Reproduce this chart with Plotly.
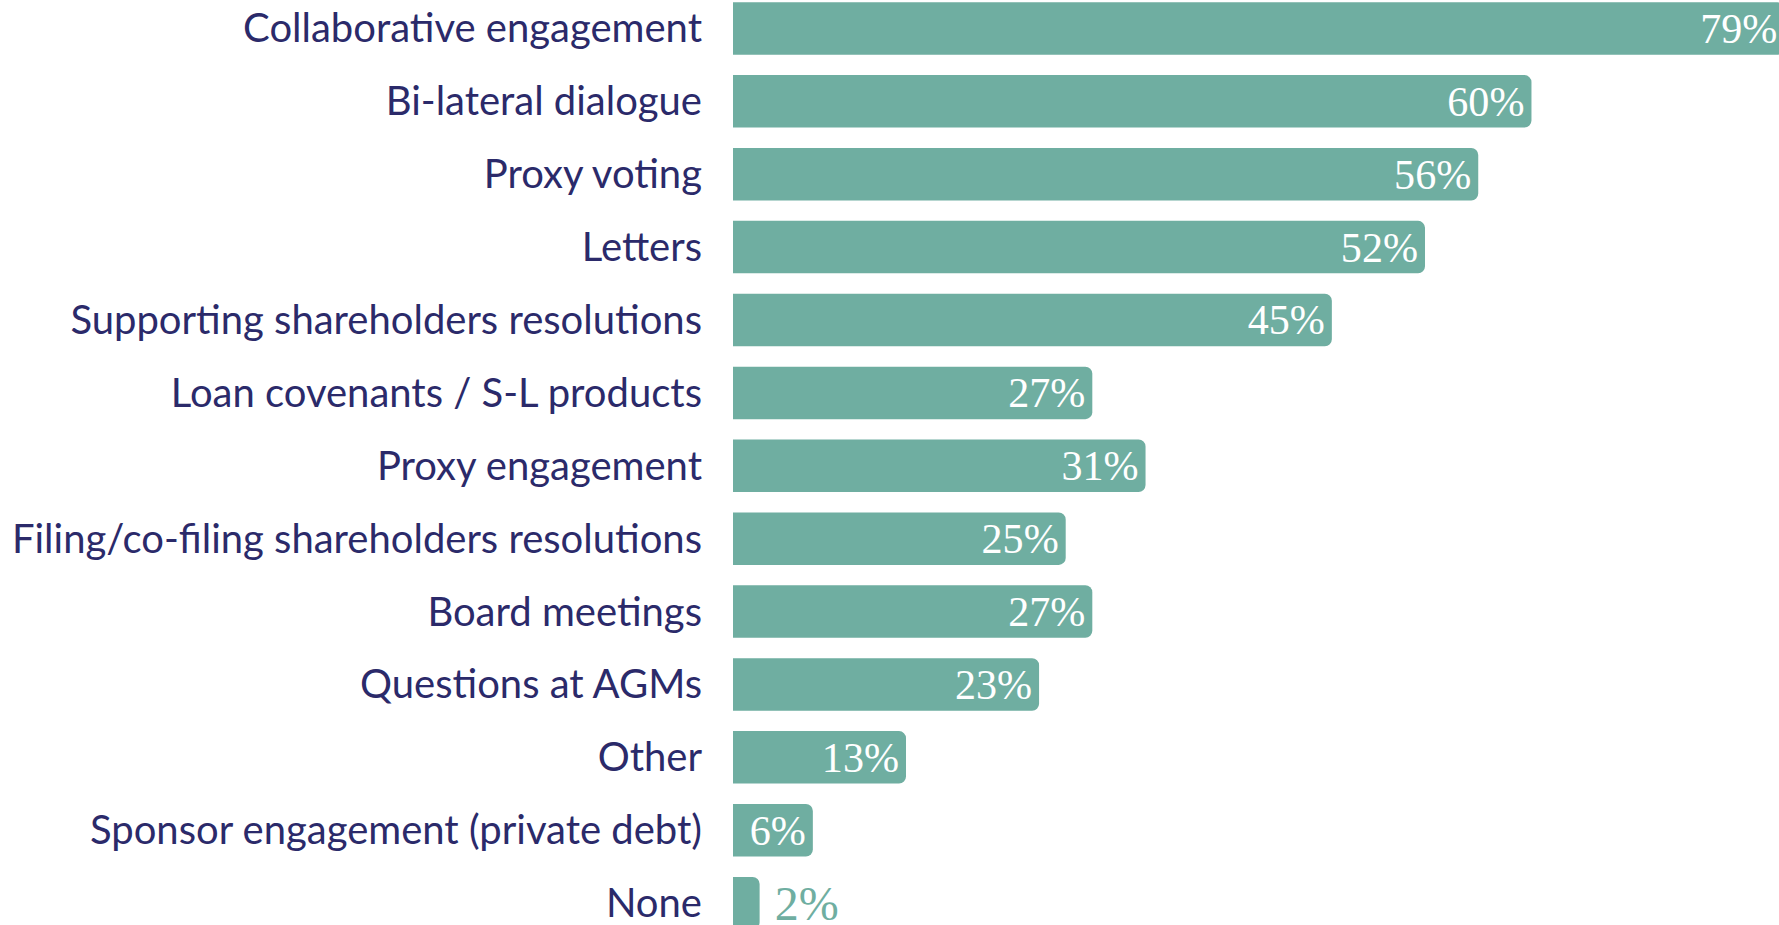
import plotly.graph_objects as go

categories = [
    "Collaborative engagement",
    "Bi-lateral dialogue",
    "Proxy voting",
    "Letters",
    "Supporting shareholders resolutions",
    "Loan covenants / S-L products",
    "Proxy engagement",
    "Filing/co-filing shareholders resolutions",
    "Board meetings",
    "Questions at AGMs",
    "Other",
    "Sponsor engagement (private debt)",
    "None",
]
values = [79, 60, 56, 52, 45, 27, 31, 25, 27, 23, 13, 6, 2]

TEAL = "#6FAEA1"
NAVY = "#2B2A6A"

labels = [f"{v}%" for v in values]
positions = ["inside"] * (len(values) - 1) + ["outside"]
labels[-1] = " " + labels[-1]

fig = go.Figure(go.Bar(
    x=values,
    y=categories,
    orientation="h",
    width=0.72,
    marker=dict(color=TEAL, cornerradius=7, line=dict(width=0)),
    text=labels,
    textposition=positions,
    insidetextanchor="end",
    insidetextfont=dict(family="Liberation Serif", size=48, color="white"),
    outsidetextfont=dict(family="Liberation Serif", size=48, color=TEAL),
    constraintext="none",
    hoverinfo="skip",
))

fig.update_layout(
    width=1779,
    height=925,
    margin=dict(l=733, r=0, t=0, b=0),
    plot_bgcolor="white",
    paper_bgcolor="white",
    showlegend=False,
    xaxis=dict(range=[0, 78.6], visible=False, showgrid=False, zeroline=False),
    yaxis=dict(
        categoryorder="array",
        categoryarray=categories,
        range=[12.3, -0.39],
        showgrid=False,
        zeroline=False,
        ticks="",
        ticklabelstandoff=30,
        tickfont=dict(family="Lato", size=40, color=NAVY),
    ),
)

fig.write_html("out.html", config={"displayModeBar": False},
               post_script="document.body.style.margin='0';")
